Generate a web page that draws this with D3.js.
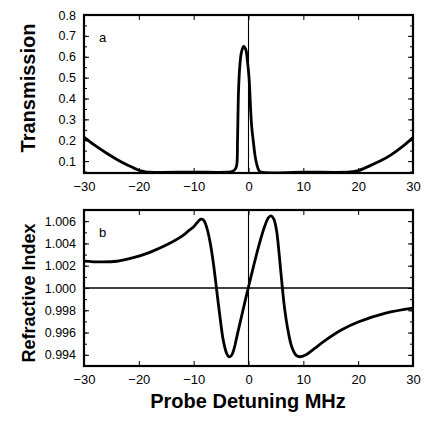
<!DOCTYPE html>
<html>
<head>
<meta charset="utf-8">
<script src="https://cdn.jsdelivr.net/npm/d3@7"></script>
<style>
  body { margin: 0; background: #fff; }
  svg { font-family: "Liberation Sans", Arial, sans-serif; }
</style>
</head>
<body>
<script>
// detuning ticks (MHz)
var detuneTicks = [-30, -20, -10, 0, 10, 20, 30];

// panel a: transmission
var transX = [-30, -28, -26, -24, -22, -20, -19, -18, -10, -4, -3, -2.4, -2.15, -2.0, -1.9, -1.8, -1.6, -1.3, -0.9, -0.5, -0.2, 0.1, 0.4, 0.6, 0.9, 1.2, 1.5, 1.9, 2.3, 10, 18, 19, 20, 22, 24, 26, 28, 30];
var transY = [0.215, 0.175, 0.14, 0.108, 0.08, 0.056, 0.05, 0.047, 0.047, 0.047, 0.05, 0.062, 0.08, 0.2, 0.35, 0.45, 0.55, 0.62, 0.65, 0.635, 0.58, 0.5, 0.34, 0.26, 0.19, 0.125, 0.085, 0.055, 0.047, 0.047, 0.047, 0.049, 0.054, 0.076, 0.1, 0.13, 0.168, 0.213];
var transTicks = [0.1, 0.2, 0.3, 0.4, 0.5, 0.6, 0.7, 0.8];

// panel b: refractive index
var indexX = [-30, -27, -24, -21, -18, -15, -12, -11, -10, -9.3, -8.7, -8.2, -7.6, -7.0, -6.4, -5.8, -5.2, -4.6, -4.0, -3.6, -3.1, -2.6, -2, 0, 2, 3, 3.6, 4.1, 4.6, 5.1, 5.6, 6.1, 6.6, 7.2, 7.9, 8.7, 9.5, 10.5, 12, 14, 17, 20, 25, 30];
var indexY = [1.00242, 1.00234, 1.0024, 1.00272, 1.0032, 1.00385, 1.0047, 1.0051, 1.0055, 1.0059, 1.00618, 1.0061, 1.0054, 1.0041, 1.0022, 0.9998, 0.9974, 0.9953, 0.99415, 0.99383, 0.99395, 0.9946, 0.9959, 1.0001, 1.0040, 1.0056, 1.0063, 1.00648, 1.0062, 1.0052, 1.0030, 1.0004, 0.9981, 0.9962, 0.9947, 0.99395, 0.99383, 0.9940, 0.99455, 0.9953, 0.99625, 0.99695, 0.99775, 0.9982];
var indexTicks = [0.994, 0.996, 0.998, 1.000, 1.002, 1.004, 1.006];

var W = 425, H = 424;
var svg = d3.select("body").append("svg")
    .attr("width", W)
    .attr("height", H);

var left = 84, right = 413;

function panel(opt) {
  var x = d3.scaleLinear().domain([-30, 30]).range([left, right]);
  var y = d3.scaleLinear().domain(opt.ydom).range([opt.bottom, opt.top]);
  var g = svg.append("g");

  g.append("clipPath").attr("id", "clip" + opt.id)
    .append("rect")
    .attr("x", left).attr("y", opt.top)
    .attr("width", right - left).attr("height", opt.bottom - opt.top);

  // zero detuning line
  g.append("line")
    .attr("x1", x(0)).attr("x2", x(0))
    .attr("y1", opt.top).attr("y2", opt.bottom)
    .attr("stroke", "#000").attr("stroke-width", 1.1);

  if (opt.hline != null) {
    g.append("line")
      .attr("x1", left).attr("x2", right)
      .attr("y1", y(opt.hline)).attr("y2", y(opt.hline))
      .attr("stroke", "#000").attr("stroke-width", 1.3);
  }

  var line = d3.line()
    .x(function (d) { return x(d[0]); })
    .y(function (d) { return y(d[1]); })
    .curve(d3.curveCatmullRom.alpha(0.5));

  g.append("path")
    .datum(d3.zip(opt.xs, opt.ys))
    .attr("clip-path", "url(#clip" + opt.id + ")")
    .attr("d", line)
    .attr("fill", "none")
    .attr("stroke", "#000")
    .attr("stroke-width", 2.8)
    .attr("stroke-linejoin", "round");

  // axes, ticks pointing inward
  var minor = d3.range(opt.ydom[0], opt.ydom[1] + 1e-9, opt.minorStep)
      .map(function (v) { return Math.round(v / opt.minorStep) * opt.minorStep; })
      .filter(function (v) { return v >= opt.ydom[0] && v <= opt.ydom[1]; });

  g.append("g").attr("transform", "translate(" + left + ",0)")
    .call(d3.axisLeft(y).tickValues(minor).tickSize(-3).tickFormat(""));
  g.append("g").attr("transform", "translate(" + right + ",0)")
    .call(d3.axisRight(y).tickValues(minor).tickSize(-3).tickFormat(""));
  g.append("g").attr("transform", "translate(" + left + ",0)")
    .call(d3.axisLeft(y).tickValues(opt.yticks).tickSize(-5).tickPadding(8)
      .tickFormat(d3.format(opt.fmt)))
    .selectAll("text").style("font-size", "12.5px");
  g.append("g").attr("transform", "translate(" + right + ",0)")
    .call(d3.axisRight(y).tickValues(opt.yticks).tickSize(-5).tickFormat(""));

  g.append("g").attr("transform", "translate(0," + opt.bottom + ")")
    .call(d3.axisBottom(x).tickValues(detuneTicks).tickSize(-5).tickPadding(9)
      .tickFormat(d3.format("d")))
    .selectAll("text").style("font-size", "13px");
  g.append("g").attr("transform", "translate(0," + opt.top + ")")
    .call(d3.axisTop(x).tickValues(detuneTicks).tickSize(-5).tickFormat(""));

  g.selectAll(".domain").remove();
  g.selectAll(".tick line").attr("stroke", "#000").attr("stroke-width", 1);
  g.selectAll(".tick text").attr("fill", "#000");

  // frame
  g.append("rect")
    .attr("x", left).attr("y", opt.top)
    .attr("width", right - left).attr("height", opt.bottom - opt.top)
    .attr("fill", "none").attr("stroke", "#000").attr("stroke-width", 2.2);

  g.append("text")
    .attr("x", 99).attr("y", opt.top + 27)
    .style("font-size", "13px")
    .text(opt.letter);

  g.append("text")
    .attr("transform", "translate(35," + opt.labelY + ") rotate(-90)")
    .attr("text-anchor", "middle")
    .style("font-size", opt.labelSize)
    .style("font-weight", "bold")
    .text(opt.label);
}

panel({
  id: "a", top: 15, bottom: 173, ydom: [0.043, 0.8],
  xs: transX, ys: transY, yticks: transTicks, minorStep: 0.05,
  fmt: ".1f", letter: "a", label: "Transmission", labelY: 88, labelSize: "20px"
});

panel({
  id: "b", top: 210, bottom: 366, ydom: [0.993, 1.007],
  xs: indexX, ys: indexY, yticks: indexTicks, minorStep: 0.001,
  fmt: ".3f", letter: "b", label: "Refractive Index", labelY: 293, labelSize: "18px", hline: 1.0
});

svg.append("text")
  .attr("x", 248).attr("y", 408)
  .attr("text-anchor", "middle")
  .style("font-size", "20px")
  .style("font-weight", "bold")
  .text("Probe Detuning MHz");
</script>
</body>
</html>
